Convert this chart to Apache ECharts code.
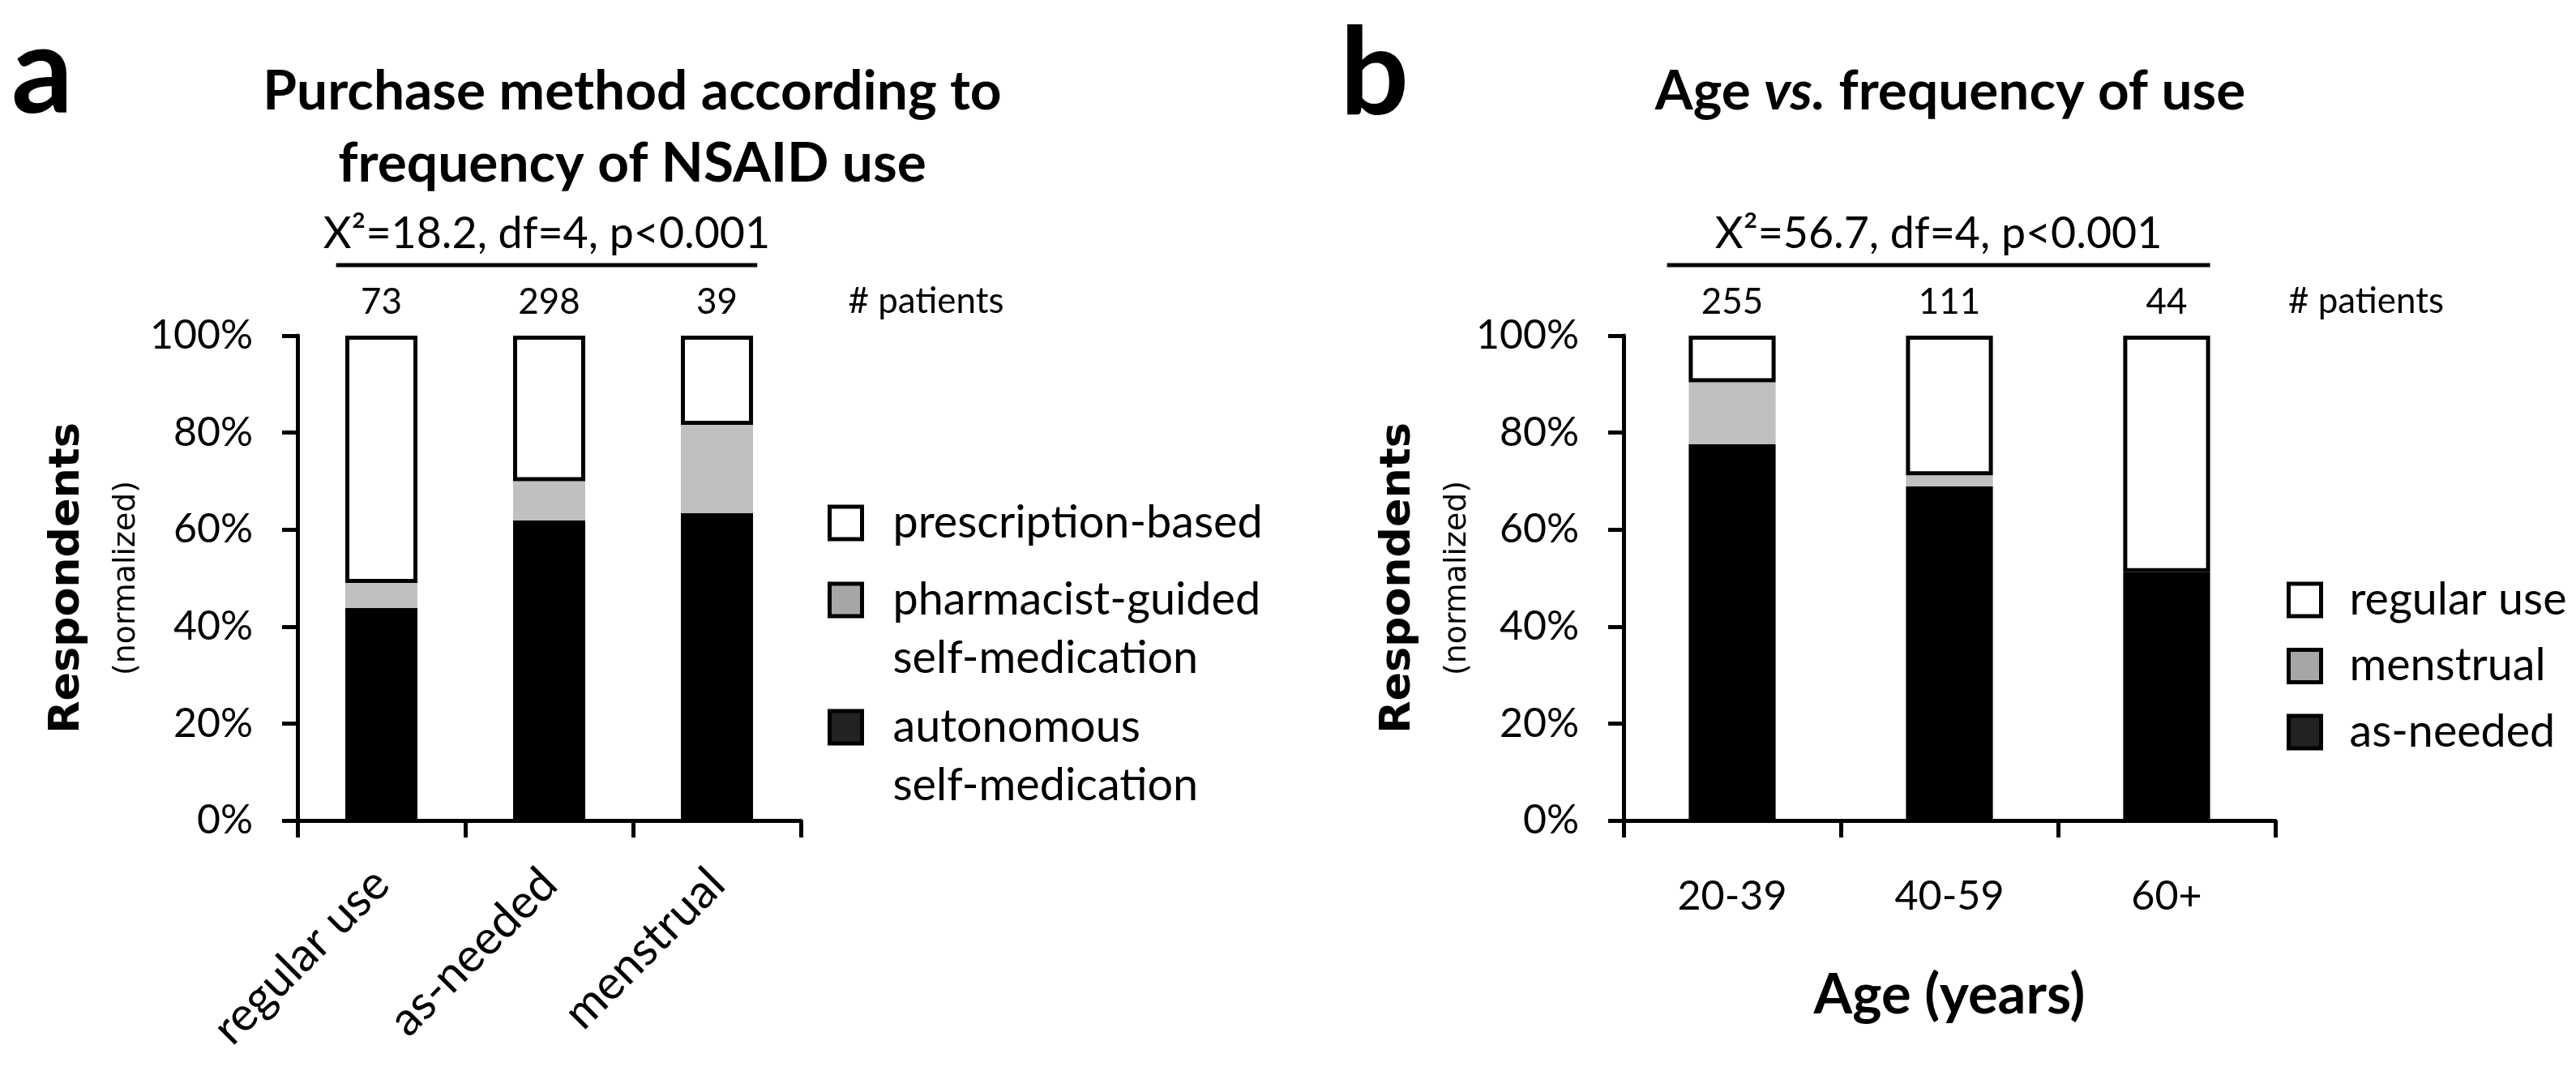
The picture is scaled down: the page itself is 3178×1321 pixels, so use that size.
<!DOCTYPE html>
<html><head><meta charset="utf-8">
<script src="https://cdn.jsdelivr.net/npm/echarts@6/dist/echarts.min.js"></script>
<style>html,body{margin:0;padding:0;background:#fff}#c{width:3178px;height:1321px}</style>
</head><body><div id="c"></div>
<script>
// ---------- data ----------
const catsA = ['regular use', 'as-needed', 'menstrual'];
const patientsA = [73, 298, 39];
const autonomousA = [43.8, 61.9, 63.4];
const pharmacistA = [5.2, 8.1, 18.2];
const prescriptionA = [51.0, 30.0, 18.4];

const catsB = ['20-39', '40-59', '60+'];
const patientsB = [255, 111, 44];
const asNeededB = [77.6, 68.9, 51.2];
const menstrualB = [12.8, 2.3, 0];
const regularB = [9.6, 28.8, 48.8];

const yTickValues = [0, 20, 40, 60, 80, 100];
const statA = 'X\u00B2=18.2, df=4, p<0.001';
const statB = 'X\u00B2=56.7, df=4, p<0.001';
const namesA = ['prescription-based', 'pharmacist-guided self-medication', 'autonomous self-medication'];
const namesB = ['regular use', 'menstrual', 'as-needed'];

// ---------- styling helpers ----------
const FONT = 'Lato';
const cv = document.createElement('canvas').getContext('2d');
function fit(text, target, family, weight) {
  cv.font = (weight || 'normal') + ' 100px "' + family + '"';
  return +(100 * target / cv.measureText(text).width).toFixed(1);
}
const K = 0.36;
const fTitle = fit('Purchase method according to', 912, FONT, 'bold');
const fTitleB = fit('Age vs. frequency of use', 733, FONT, 'bold');
const fStat = fit(statA, 552, FONT);
const fNum = fit('# patients', 192, FONT);
const fTick = fit('100%', 127, FONT);
const fLegA = fit('prescription-based', 456, FONT);
const fLegB = fit('regular use', 268, FONT);
const fXA = fit('regular use', 279, FONT);
const fXB = fit('20-39', 135, FONT);
const fAge = fit('Age (years)', 335, FONT, 'bold');
const fResp = fit('Respondents', 384, 'DejaVu Sans', 'bold');
const fNorm = fit('(normalized)', 240, 'DejaVu Sans');
const LHA = 72, LHB = 56;

const axisLineStyle = { color: '#000', width: 5 };

function yAxis(grid, gap) {
  return {
    type: 'value', gridIndex: grid, min: 0, max: 100, interval: 20,
    axisLine: { show: true, lineStyle: axisLineStyle },
    axisTick: { show: true, length: 19, lineStyle: axisLineStyle },
    splitLine: { show: false },
    axisLabel: { formatter: '{value}%', margin: 55, fontFamily: FONT, fontSize: fTick, color: '#000' },
    name: '{r|Respondents}\n{n|(normalized)}',
    nameLocation: 'middle', nameRotate: 90, nameGap: gap,
    nameTextStyle: {
      color: '#000',
      rich: {
        r: { fontFamily: 'DejaVu Sans', fontWeight: 'bold', fontSize: fResp, lineHeight: 70, color: '#000' },
        n: { fontFamily: 'DejaVu Sans', fontSize: fNorm, lineHeight: 76, color: '#000' }
      }
    }
  };
}

function topLabel(counts) {
  return {
    show: true, position: 'top', distance: 19,
    formatter: p => String(counts[p.dataIndex]),
    fontFamily: FONT, fontSize: fNum, lineHeight: fNum, color: '#000'
  };
}

const legendText = (size, lh, pad) => ({ fontFamily: FONT, fontSize: size, lineHeight: lh, color: '#000', padding: pad });
const boxStyle = c => ({ color: c, borderColor: '#000', borderWidth: 5 });
// first text line sits beside the box, continuation line below it
const twoLine = n => ' \n' + n.replace(' ', '\n');

const option = {
  animation: false,
  backgroundColor: '#fff',
  grid: [
    { left: 367, top: 414, width: 621, height: 598, outerBoundsMode: 'none', containLabel: false },
    { left: 2003, top: 414, width: 804, height: 598, outerBoundsMode: 'none', containLabel: false }
  ],
  xAxis: [
    {
      type: 'category', gridIndex: 0, data: catsA,
      axisLine: { show: true, lineStyle: axisLineStyle },
      axisTick: { show: true, length: 21, lineStyle: axisLineStyle },
      axisLabel: { interval: 0, rotate: 45, margin: 69, padding: [68, 0, 0, 0], fontFamily: FONT, fontSize: fXA, lineHeight: fXA, color: '#000' }
    },
    {
      type: 'category', gridIndex: 1, data: catsB,
      axisLine: { show: true, lineStyle: axisLineStyle },
      axisTick: { show: true, length: 21, lineStyle: axisLineStyle },
      axisLabel: { interval: 0, margin: 69, fontFamily: FONT, fontSize: fXB, lineHeight: fXB, color: '#000' },
      name: 'Age (years)', nameLocation: 'middle', nameGap: 181,
      nameTextStyle: { fontFamily: FONT, fontWeight: 'bold', fontSize: fAge, lineHeight: fAge, color: '#000' }
    }
  ],
  yAxis: [yAxis(0, 173), yAxis(1, 165)],
  legend: [
    { data: [{ name: namesA[0], itemStyle: boxStyle('#ffffff') }], left: 1021, top: 645 - LHA / 2, orient: 'vertical', padding: 0,
      itemWidth: 40, itemHeight: 40, icon: 'rect', selectedMode: false, textStyle: legendText(fLegA, LHA, [0, 0, 0, 33]) },
    { data: [{ name: namesA[1], itemStyle: boxStyle('#a6a6a6') }], left: 1021, top: 740 - 1.5 * LHA, orient: 'vertical', padding: 0,
      itemWidth: 40, itemHeight: 40, icon: 'rect', selectedMode: false, formatter: twoLine,
      textStyle: legendText(fLegA, LHA, [0, 0, 0, 33]) },
    { data: [{ name: namesA[2], itemStyle: boxStyle('#222222') }], left: 1021, top: 897 - 1.5 * LHA, orient: 'vertical', padding: 0,
      itemWidth: 40, itemHeight: 40, icon: 'rect', selectedMode: false, formatter: twoLine,
      textStyle: legendText(fLegA, LHA, [0, 0, 0, 33]) },
    { data: [
        { name: namesB[0], itemStyle: boxStyle('#ffffff') },
        { name: namesB[1], itemStyle: boxStyle('#a6a6a6') },
        { name: namesB[2], itemStyle: boxStyle('#222222') }
      ], left: 2821, top: 740 - LHB / 2, orient: 'vertical', padding: 0, itemGap: 81.5 - LHB,
      itemWidth: 40, itemHeight: 40, icon: 'rect', selectedMode: false, textStyle: legendText(fLegB, LHB, [0, 0, 0, 30]) }
  ],
  series: [
    { name: namesA[2], type: 'bar', xAxisIndex: 0, yAxisIndex: 0, stack: 'a', barWidth: '43%', data: autonomousA,
      itemStyle: { color: '#000', borderColor: '#000', borderWidth: 5 } },
    { name: namesA[1], type: 'bar', xAxisIndex: 0, yAxisIndex: 0, stack: 'a', barWidth: '43%', data: pharmacistA,
      itemStyle: { color: '#c0c0c0', borderWidth: 0 } },
    { name: namesA[0], type: 'bar', xAxisIndex: 0, yAxisIndex: 0, stack: 'a', barWidth: '43%', data: prescriptionA,
      itemStyle: { color: '#fff', borderColor: '#000', borderWidth: 5 }, label: topLabel(patientsA) },
    { name: namesB[2], type: 'bar', xAxisIndex: 1, yAxisIndex: 1, stack: 'b', barWidth: '40%', data: asNeededB,
      itemStyle: { color: '#000', borderColor: '#000', borderWidth: 5 } },
    { name: namesB[1], type: 'bar', xAxisIndex: 1, yAxisIndex: 1, stack: 'b', barWidth: '40%', data: menstrualB,
      itemStyle: { color: '#c0c0c0', borderWidth: 0 } },
    { name: namesB[0], type: 'bar', xAxisIndex: 1, yAxisIndex: 1, stack: 'b', barWidth: '40%', data: regularB,
      itemStyle: { color: '#fff', borderColor: '#000', borderWidth: 5 }, label: topLabel(patientsB) }
  ]
};

const chart = echarts.init(document.getElementById('c'), null, { renderer: 'canvas' });
chart.setOption(option);

// ---------- annotations positioned through the axes ----------
function txt(text, x, baseline, size, opts) {
  opts = opts || {};
  const st = Object.assign({
    text: text, fill: '#000',
    fontFamily: opts.family || FONT, fontSize: size, fontWeight: opts.weight || 'normal',
    align: opts.align || 'center', verticalAlign: 'middle',
    textAlign: opts.align || 'center', textVerticalAlign: 'middle'
  }, opts.style || {});
  return { type: 'text', x: x, y: baseline - K * size, style: st, silent: true };
}

const g = [];
function panel(ax, stat, ext, pOffset) {
  const c0 = chart.convertToPixel({ xAxisIndex: ax }, 0);
  const c1 = chart.convertToPixel({ xAxisIndex: ax }, 1);
  const c2 = chart.convertToPixel({ xAxisIndex: ax }, 2);
  const cw = c1 - c0;
  const yTop = chart.convertToPixel({ yAxisIndex: ax }, 100);
  const x1 = c0 + ext[0] * cw, x2 = c2 + ext[1] * cw;
  const ly = yTop - 87;
  g.push({ type: 'line', shape: { x1: x1, y1: ly, x2: x2, y2: ly }, style: { stroke: '#000', lineWidth: 5 }, silent: true });
  g.push(txt(stat, (x1 + x2) / 2, yTop - 106, fStat));
  g.push(txt('# patients', c2 + pOffset, yTop - 26, fNum, { align: 'left' }));
}
panel(0, statA, [-0.27, 0.24], 162);
panel(1, statB, [-0.30, 0.20], 150);

g.push(txt('a', 14, 145, 150, { align: 'left', weight: 'bold' }));
g.push(txt('b', 1653, 147, 150, { align: 'left', weight: 'bold' }));
g.push(txt('Purchase method according to', 780, 138, fTitle, { weight: 'bold' }));
g.push(txt('frequency of NSAID use', 780, 227, fTitle, { weight: 'bold' }));
const tb = txt('{b|Age }{i|vs.}{b| frequency of use}', 2406, 138, fTitleB, { weight: 'bold' });
tb.style.rich = {
  b: { fontFamily: FONT, fontWeight: 'bold', fontSize: fTitleB, fill: '#000', color: '#000' },
  i: { fontFamily: FONT, fontWeight: 'bold', fontStyle: 'italic', fontSize: fTitleB, fill: '#000', color: '#000' }
};
g.push(tb);

chart.setOption({ graphic: { elements: g } });
</script>
</body></html>
